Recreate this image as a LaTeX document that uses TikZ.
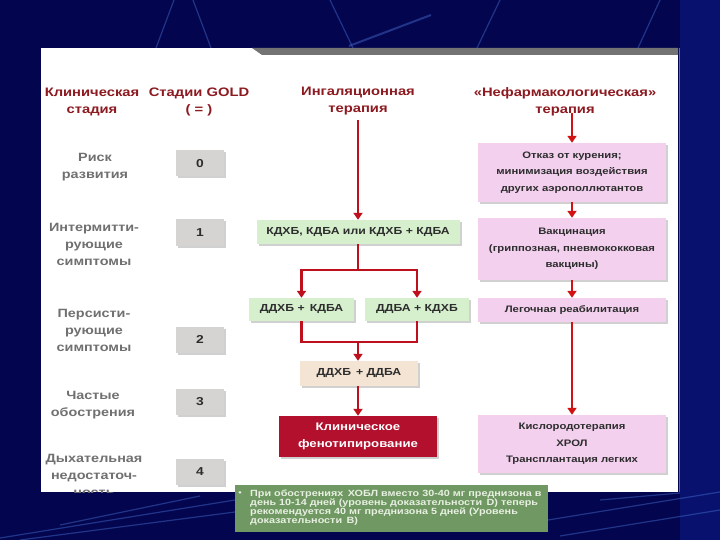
\documentclass[tikz,border=0pt]{standalone}
\usepackage{fontspec}
\setmainfont{Liberation Sans}[FakeStretch=1.2]
\newfontfamily\notefont[FakeStretch=1.2]{Liberation Sans}
\usetikzlibrary{arrows.meta,shadows}
\definecolor{navy}{RGB}{3,6,78}
\definecolor{navyR}{RGB}{8,18,110}
\definecolor{streak}{RGB}{70,110,210}
\definecolor{hdr}{RGB}{140,26,32}
\definecolor{stg}{RGB}{112,112,112}
\definecolor{goldbox}{RGB}{214,212,210}
\definecolor{inhg}{RGB}{214,240,206}
\definecolor{beige}{RGB}{243,228,212}
\definecolor{crim}{RGB}{178,16,44}
\definecolor{pinkb}{RGB}{242,208,238}
\definecolor{arr}{RGB}{210,18,18}
\definecolor{arrdark}{RGB}{190,16,28}
\definecolor{notebg}{RGB}{112,152,98}
\definecolor{notetx}{RGB}{232,240,226}
\definecolor{boxtx}{RGB}{45,45,45}
\begin{document}
\begin{tikzpicture}[x=1pt,y=-1pt,
  hdrtext/.style={text=hdr, font=\fontsize{12.3}{17}\selectfont\bfseries, align=center, inner sep=0pt},
  stgtext/.style={text=stg, font=\fontsize{12}{17}\selectfont\bfseries, align=center, inner sep=0pt},
  shad/.style={drop shadow={shadow xshift=2pt,shadow yshift=-2pt,opacity=0.3,fill=black!60}},
  goldb/.style={shad, fill=goldbox, minimum width=48pt, minimum height=26pt, inner sep=0pt, text=boxtx, font=\fontsize{11.5}{14}\selectfont\bfseries},
  inhbox/.style={shad, fill=inhg, inner sep=0pt, minimum height=24pt, text=boxtx, font=\fontsize{10.2}{14}\selectfont\bfseries},
  beigebox/.style={shad, fill=beige, inner sep=0pt, text=boxtx, font=\fontsize{10.2}{14}\selectfont\bfseries},
  crimbox/.style={shad, fill=crim, inner sep=0pt, text=white, align=center, font=\fontsize{11}{17}\selectfont\bfseries},
  pinkbox/.style={shad, fill=pinkb, inner sep=0pt, minimum width=188pt, text=boxtx, align=center, font=\fontsize{9.4}{16.5}\selectfont\bfseries},
  redline/.style={draw=arrdark, line width=2.8pt},
  redarrow/.style={draw=arrdark, line width=2.8pt, -{Triangle[width=9pt,length=7pt]}},
  redarrowR/.style={draw=arr, line width=2.6pt, -{Triangle[width=9pt,length=7pt]}},
  streakline/.style={draw=streak, line width=1.2pt, opacity=0.45}
]
\useasboundingbox (0,0) rectangle (720,540);
% background
\fill[navy] (0,0) rectangle (720,540);
\fill[navyR] (680,0) rectangle (720,540);
\draw[streakline] (174,0) -- (156,48);
\draw[streakline] (193,0) -- (211,48);
\draw[streakline] (330,0) -- (353,48);
\draw[streakline, line width=2pt] (349,46) -- (431,15);
\draw[streakline] (500,0) -- (477,48);
\draw[streakline] (660,0) -- (638,48);
\draw[streakline] (0,538) -- (235,500);
\draw[streakline] (20,540) -- (235,512);
\draw[streakline] (60,525) -- (200,496);
\draw[streakline] (548,520) -- (720,492);
\draw[streakline] (560,536) -- (720,510);
\draw[streakline] (600,500) -- (680,493);
% white panel
\fill[white] (41,48) rectangle (678,492);
\fill[black!55] (252,48) -- (678,48) -- (678,55) -- (262,55) -- cycle;
\draw[streak, line width=1pt] (679,48) -- (679,492);
% headers
\node[hdrtext] (h1) at (92,101.5) {Клиническая\\стадия};
\node[hdrtext] (h2) at (199,101.5) {Стадии GOLD\\( = )};
\node[hdrtext] (h3) at (358,101.5) {Ингаляционная\\терапия};
\node[hdrtext] (h4) at (565,101.5) {«Нефармакологическая»\\терапия};
% stage labels (clipped by panel)
\begin{scope}
\clip (41,48) rectangle (678,492);
\node[stgtext] (s0) at (95,167) {Риск\\развития};
\node[stgtext] (s1) at (94,244.5) {Интермитти-\\рующие\\симптомы};
\node[stgtext] (s2) at (94,330) {Персисти-\\рующие\\симптомы};
\node[stgtext] (s3) at (93,405) {Частые\\обострения};
\node[stgtext] (s4) at (94,475) {Дыхательная\\недостаточ-\\ность};
\end{scope}
% GOLD boxes
\node[goldb] (g0) at (200,163.5) {0};
\node[goldb] (g1) at (200,232.5) {1};
\node[goldb] (g2) at (200,339.5) {2};
\node[goldb] (g3) at (200,401.5) {3};
\node[goldb] (g4) at (200,471.5) {4};
% inhalation column
\coordinate (ihtop) at (358,120);
\node[inhbox, minimum width=203pt] (k) at (358,232) {КДХБ, КДБА или КДХБ + КДБА};
\node[inhbox, minimum width=105pt, minimum height=23pt] (d1) at (301.5,309.5) {ДДХБ +\, КДБА};
\node[inhbox, minimum width=104pt, minimum height=23pt] (d2) at (417,309.5) {ДДБА + КДХБ};
\node[beigebox, minimum width=118pt, minimum height=25pt] (dd) at (359,373.5) {ДДХБ \,+ ДДБА};
\node[crimbox, minimum width=158pt, minimum height=41pt] (cp) at (358,436.5) {Клиническое\\фенотипирование};
\coordinate (br) at (358,270);
\coordinate (brL) at (301.5,270);
\coordinate (brR) at (417,270);
\coordinate (mg) at (358,342);
\coordinate (mgL) at (301.5,342);
\coordinate (mgR) at (417,342);
\draw[redarrow] (ihtop) -- (k.north -| ihtop);
\draw[redline] (k.south -| br) -- (br);
\draw[redarrow] (br) -- (brL) -- (d1.north);
\draw[redarrow] (br) -- (brR) -- (d2.north);
\draw[redline] (d1.south) -- (mgL) -- (mgR) -- (d2.south);
\draw[redarrow] (mg) -- (dd.north -| mg);
\draw[redarrow] (dd.south -| mg) -- (cp.north -| mg);
% non-pharmacological column
\coordinate (nptop) at (572,113);
\node[pinkbox, minimum height=59pt] (p1) at (572,172.5) {Отказ от курения;\\минимизация воздействия\\других аэрополлютантов};
\node[pinkbox, minimum height=62pt] (p2) at (572,249) {Вакцинация\\(гриппозная, пневмококковая\\вакцины)};
\node[pinkbox, minimum height=24pt] (p3) at (572,310) {Легочная реабилитация};
\node[pinkbox, minimum height=58pt] (p4) at (572,444) {Кислородотерапия\\ХРОЛ\\Трансплантация легких};
\draw[redarrowR] (nptop) -- (p1.north);
\draw[redarrowR] (p1.south) -- (p2.north);
\draw[redarrowR] (p2.south) -- (p3.north);
\draw[redarrowR] (p3.south) -- (p4.north);
% note box
\fill[notebg] (235,485) rectangle (548,532);
\node[text=notetx, font=\fontsize{8}{9}\selectfont\bfseries, inner sep=0pt] (nb) at (240,494) {•};
\node[text=notetx, font=\notefont\fontsize{9}{9}\selectfont\bfseries, align=left, anchor=north west, inner sep=0pt] (nt) at (250,489.5) {При обострениях\, ХОБЛ вместо 30-40 мг преднизона в\\день 10-14 дней (уровень доказательности\, D) теперь\\рекомендуется 40 мг преднизона 5 дней (Уровень\\доказательности\, B)};
\end{tikzpicture}
\end{document}
